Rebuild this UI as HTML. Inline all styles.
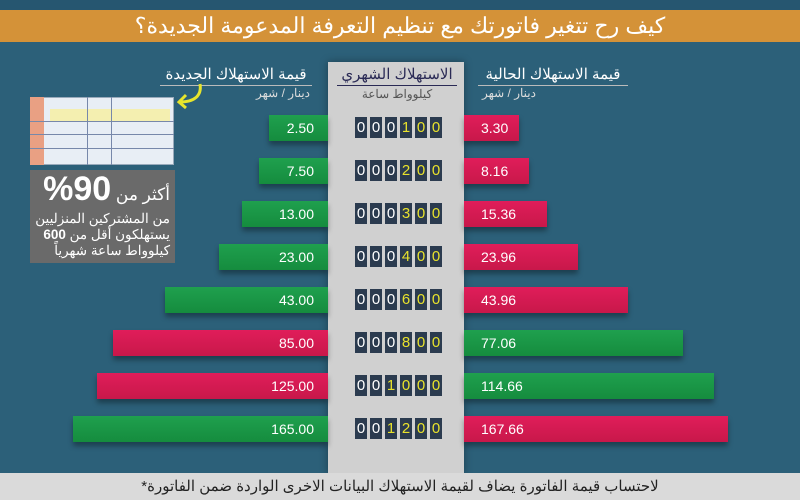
<!DOCTYPE html>
<html><head><meta charset="utf-8"><style>
*{margin:0;padding:0;box-sizing:border-box}
body{width:800px;height:500px;overflow:hidden;background:#2c6079;font-family:"Liberation Sans","Noto Sans CJK SC",sans-serif;position:relative}
.a{position:absolute}
.hdr{left:0;top:10px;width:800px;height:32px;background:#d49238;color:#fff;font-size:22px;text-align:center;line-height:32px}
.panel{left:328px;top:62px;width:136px;height:412px;background:#d0d0d0;box-shadow:0 0 8px rgba(0,0,0,.35)}
.bar{height:26px;color:#fff;font-size:14px;line-height:26px;box-shadow:0 4px 5px rgba(0,0,0,.35)}
.g{background:linear-gradient(#1fa04e,#158c3e)}
.r{background:linear-gradient(#e01d5a,#c8184a)}
.L{text-align:right;padding-right:14px}
.R{padding-left:17px}
.cnt{left:355px;display:flex;gap:3px}
.cnt span{width:12px;height:21px;background:#2b3b4f;color:#fff;font-size:15px;text-align:center;line-height:21px}
.cnt span.y{color:#e8e22c}
.ch{color:#fff;font-size:15px;text-align:center}
.sub{color:#ddd;font-size:12px;text-align:center}
.foot{left:0;top:473px;width:800px;height:27px;background:#dadada;color:#222;font-size:15px;text-align:center;line-height:27px}
</style></head><body>
<div class="a" style="left:0;top:0;width:800px;height:10px;background:#265670"></div>
<div class="a hdr">كيف رح تتغير فاتورتك مع تنظيم التعرفة المدعومة الجديدة؟</div>

<div class="a ch" style="left:478px;top:65px;width:150px;border-bottom:1px solid #bbb;padding-bottom:2px">قيمة الاستهلاك الحالية</div>
<div class="a sub" style="left:478px;top:86px;width:150px;text-align:left;padding-left:4px">دينار / شهر</div>
<div class="a ch" style="left:160px;top:65px;width:152px;border-bottom:1px solid #bbb;padding-bottom:2px">قيمة الاستهلاك الجديدة</div>
<div class="a sub" style="left:160px;top:86px;width:150px;text-align:right">دينار / شهر</div>

<div class="a panel"></div>
<div class="a" style="left:337px;top:65px;width:120px;text-align:center;color:#2a2a55;font-size:15px;border-bottom:1px solid #2a2a55;padding-bottom:2px">الاستهلاك الشهري</div>
<div class="a" style="left:337px;top:87px;width:120px;text-align:center;color:#555;font-size:12px">كيلوواط ساعة</div>

<div class="a" style="left:30px;top:97px;width:144px;height:68px;background:#e8eef5;border:1px solid #9ab"></div>
<div class="a" style="left:50px;top:109px;width:120px;height:12px;background:#f4efb0"></div>
<div class="a" style="left:30px;top:97px;width:14px;height:68px;background:#e9a083"></div>
<div class="a" style="left:87px;top:97px;width:1px;height:68px;background:#7788aa"></div>
<div class="a" style="left:111px;top:97px;width:1px;height:68px;background:#7788aa"></div>
<div class="a" style="left:30px;top:121px;width:144px;height:1px;background:#7788aa"></div>
<div class="a" style="left:30px;top:134px;width:144px;height:1px;background:#7788aa"></div>
<div class="a" style="left:30px;top:148px;width:144px;height:1px;background:#7788aa"></div>
<svg class="a" style="left:172px;top:80px" width="40" height="40"><path d="M28 4 C30 16 22 22 8 22" stroke="#e7e52c" stroke-width="3" fill="none"/><path d="M14 15 L7 22 L14 28" stroke="#e7e52c" stroke-width="3" fill="none"/></svg>
<div class="a" style="left:30px;top:170px;width:145px;height:93px;background:#6a6a6a;color:#fff;text-align:right;padding:3px 5px;direction:rtl">
<div style="font-size:17px;line-height:32px">أكثر من <b style="font-size:34px">90%</b></div>
<div style="font-size:13.5px;line-height:16px">من المشتركين المنزليين<br>يستهلكون أقل من <b>600</b><br>كيلوواط ساعة شهرياً</div>
</div>

<div class="a bar g L" style="left:269px;top:115px;width:59px">2.50</div>
<div class="a bar r R" style="left:464px;top:115px;width:55px">3.30</div>
<div class="a bar g L" style="left:259px;top:158px;width:69px">7.50</div>
<div class="a bar r R" style="left:464px;top:158px;width:65px">8.16</div>
<div class="a bar g L" style="left:242px;top:201px;width:86px">13.00</div>
<div class="a bar r R" style="left:464px;top:201px;width:83px">15.36</div>
<div class="a bar g L" style="left:219px;top:244px;width:109px">23.00</div>
<div class="a bar r R" style="left:464px;top:244px;width:114px">23.96</div>
<div class="a bar g L" style="left:165px;top:287px;width:163px">43.00</div>
<div class="a bar r R" style="left:464px;top:287px;width:164px">43.96</div>
<div class="a bar r L" style="left:113px;top:330px;width:215px">85.00</div>
<div class="a bar g R" style="left:464px;top:330px;width:219px">77.06</div>
<div class="a bar r L" style="left:97px;top:373px;width:231px">125.00</div>
<div class="a bar g R" style="left:464px;top:373px;width:250px">114.66</div>
<div class="a bar g L" style="left:73px;top:416px;width:255px">165.00</div>
<div class="a bar r R" style="left:464px;top:416px;width:264px">167.66</div>

<div class="a cnt" style="top:117px"><span>0</span><span>0</span><span>0</span><span class="y">1</span><span class="y">0</span><span class="y">0</span></div>
<div class="a cnt" style="top:160px"><span>0</span><span>0</span><span>0</span><span class="y">2</span><span class="y">0</span><span class="y">0</span></div>
<div class="a cnt" style="top:203px"><span>0</span><span>0</span><span>0</span><span class="y">3</span><span class="y">0</span><span class="y">0</span></div>
<div class="a cnt" style="top:246px"><span>0</span><span>0</span><span>0</span><span class="y">4</span><span class="y">0</span><span class="y">0</span></div>
<div class="a cnt" style="top:289px"><span>0</span><span>0</span><span>0</span><span class="y">6</span><span class="y">0</span><span class="y">0</span></div>
<div class="a cnt" style="top:332px"><span>0</span><span>0</span><span>0</span><span class="y">8</span><span class="y">0</span><span class="y">0</span></div>
<div class="a cnt" style="top:375px"><span>0</span><span>0</span><span class="y">1</span><span class="y">0</span><span class="y">0</span><span class="y">0</span></div>
<div class="a cnt" style="top:418px"><span>0</span><span>0</span><span class="y">1</span><span class="y">2</span><span class="y">0</span><span class="y">0</span></div>

<div class="a foot">*لاحتساب قيمة الفاتورة يضاف لقيمة الاستهلاك البيانات الاخرى الواردة ضمن الفاتورة</div>
</body></html>
